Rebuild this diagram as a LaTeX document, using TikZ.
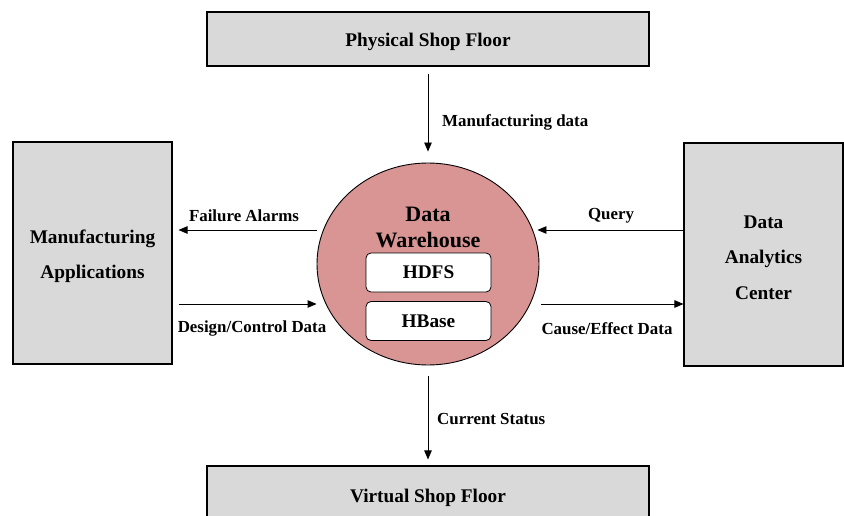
\documentclass[tikz,border=0pt]{standalone}
\usepackage{fontspec}
\setmainfont{Liberation Serif}
\usetikzlibrary{shapes.geometric,arrows.meta}
\definecolor{boxgray}{RGB}{217,217,217}
\definecolor{whfill}{RGB}{217,149,148}
\tikzset{
  block/.style={draw=black, fill=boxgray, line width=1.1pt, inner sep=0pt},
  btext/.style={font=\fontsize{19.3}{35.5}\selectfont\bfseries, align=center, inner sep=0pt},
  store/.style={draw=black, fill=white, line width=0.8pt, rounded corners=5pt,
    minimum width=125pt, minimum height=39pt, inner sep=0pt,
    font=\fontsize{19.3}{23}\selectfont\bfseries},
  flow/.style={line width=0.9pt, -{Triangle[length=9pt,width=7.5pt]}},
  lbl/.style={font=\fontsize{16.9}{20}\selectfont\bfseries, inner sep=0pt}
}
\begin{document}
\begin{tikzpicture}[x=1pt,y=-1pt]
\useasboundingbox (0,0) rectangle (844,516);
\clip (0,0) rectangle (844,516);

% outer entities
\node[block, minimum width=442pt, minimum height=54pt] (psf) at (428,39) {};
\node[block, minimum width=442pt, minimum height=58pt] (vsf) at (428,495) {};
\node[block, minimum width=159pt, minimum height=222pt] (ma) at (92.5,253) {};
\node[block, minimum width=159pt, minimum height=223pt] (dac) at (763.5,254.5) {};
\node[btext] (psft) at ([yshift=-2.5pt]psf.center) {Physical Shop Floor};
\node[btext] (vsft) at ([yshift=-2.5pt]vsf.center) {Virtual Shop Floor};
\node[btext] (mat) at ([yshift=-3.5pt]ma.center) {Manufacturing\\Applications};
\node[btext] (dact) at ([yshift=-3pt]dac.center) {Data\\Analytics\\Center};

% central data warehouse
\node[ellipse, draw=black, fill=whfill, line width=0.9pt, minimum width=222pt,
      minimum height=202pt, inner sep=0pt] (dw) at (428,264) {};
\node[font=\fontsize{22}{26}\selectfont\bfseries, align=center, inner sep=0pt]
      (dwt) at (428,227.5) {Data\\Warehouse};
\node[store] (hdfs) at (428.5,272.5) {\raisebox{-1.5pt}{HDFS}};
\node[store] (hbase) at (428.5,321) {\raisebox{-1.5pt}{HBase}};

% data flows
\draw[flow, shorten <=7pt, shorten >=11pt] (psf.south) -- (dw.north);
\draw[flow, shorten <=11pt, shorten >=6pt] (dw.south) -- (vsf.north);
\draw[flow, shorten >=6pt] (dw.west |- 0,230) -- (ma.east |- 0,230);
\draw[flow, shorten <=6pt] (ma.east |- 0,304) -- (dw.west |- 0,304);
\draw[flow, shorten >=-2pt] (dac.west |- 0,230) -- (dw.east |- 0,230);
\draw[flow, shorten <=2pt] (dw.east |- 0,304) -- (dac.west |- 0,304);

% flow labels
\node[lbl, anchor=west] (lmd) at (442,122) {Manufacturing data};
\node[lbl] (lfa) at (244,216) {Failure Alarms};
\node[lbl] (ldc) at (252,329) {Design/Control Data};
\node[lbl] (lq) at (611,216) {Query};
\node[lbl] (lce) at (607,329) {Cause/Effect Data};
\node[lbl, anchor=west] (lcs) at (437,419) {Current Status};
\end{tikzpicture}
\end{document}
